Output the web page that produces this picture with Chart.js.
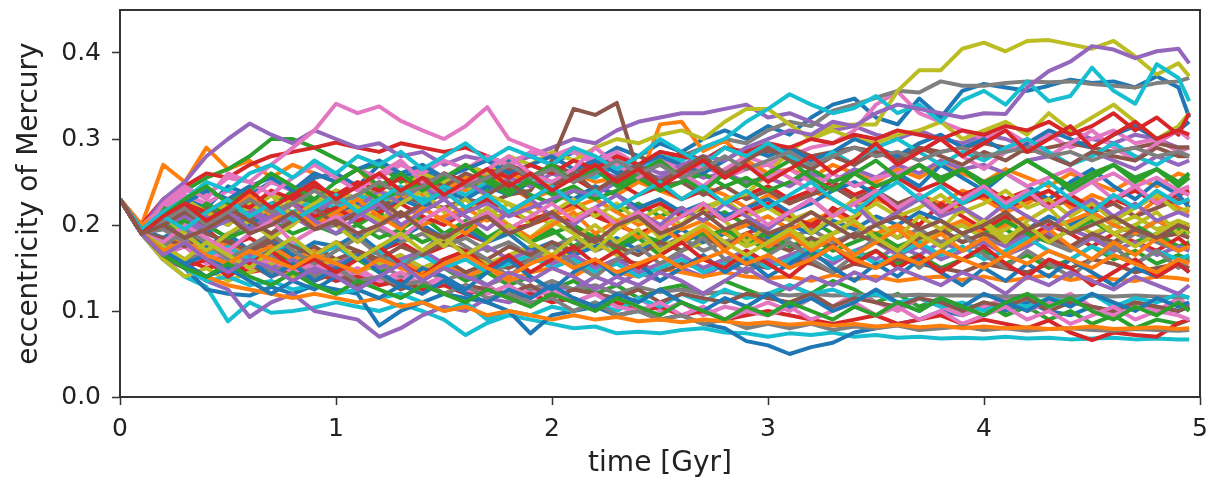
<!DOCTYPE html>
<html lang="en">

<head>
    <meta charset="UTF-8">
    <title>Mercury eccentricity</title>
    <script src="https://cdn.jsdelivr.net/npm/chart.js"></script>
    <style>
        body {
            margin: 0;
            background: #ffffff;
        }

        .chart-box {
            width: 1225px;
            height: 482px;
        }
    </style>
</head>

<body>
    <div class="chart-box">
        <canvas id="grafico" width="1225" height="482"></canvas>
    </div>

    <script>
        // time in Gyr, one sample every 0.1 Gyr
        const times = [0, 0.1, 0.2, 0.3, 0.4, 0.5, 0.6, 0.7, 0.8, 0.9,
            1.0, 1.1, 1.2, 1.3, 1.4, 1.5, 1.6, 1.7, 1.8, 1.9,
            2.0, 2.1, 2.2, 2.3, 2.4, 2.5, 2.6, 2.7, 2.8, 2.9,
            3.0, 3.1, 3.2, 3.3, 3.4, 3.5, 3.6, 3.7, 3.8, 3.9,
            4.0, 4.1, 4.2, 4.3, 4.4, 4.5, 4.6, 4.7, 4.8, 4.9,
            4.95];

        const xTickValues = [0, 1, 2, 3, 4, 5];
        const yTickValues = [0.0, 0.1, 0.2, 0.3, 0.4];

        // eccentricity of each run
        const run00 = [.23, .195, .215, .23, .22, .245, .235, .25, .24, .255,
            .26, .245, .27, .255, .265, .25, .27, .26, .275, .28,
            .27, .285, .275, .29, .28, .295, .285, .30, .31, .30,
            .315, .305, .325, .34, .347, .325, .317, .347, .325, .356,
            .364, .36, .356, .362, .369, .365, .367, .36, .373, .36,
            .325];
        const run01 = [.23, .2, .27, .25, .29, .265, .275, .255, .27, .26,
            .25, .265, .24, .255, .235, .25, .24, .26, .245, .23,
            .24, .225, .245, .235, .25, .24, .23, .245, .235, .22,
            .235, .225, .24, .23, .215, .23, .22, .235, .225, .24,
            .23, .215, .225, .24, .22, .235, .225, .21, .23, .22,
            .215];
        const run02 = [.23, .19, .22, .24, .255, .265, .28, .3, .3, .29,
            .277, .265, .27, .25, .26, .245, .255, .24, .25, .235,
            .225, .24, .23, .215, .225, .21, .22, .205, .215, .2,
            .21, .195, .205, .19, .2, .185, .195, .18, .19, .2,
            .185, .195, .18, .19, .175, .185, .17, .18, .19, .175,
            .18];
        const run03 = [.23, .2, .23, .245, .26, .255, .27, .28, .285, .29,
            .296, .29, .285, .295, .29, .285, .29, .28, .27, .26,
            .25, .255, .24, .25, .235, .245, .23, .24, .225, .235,
            .245, .23, .24, .25, .235, .245, .255, .24, .25, .235,
            .245, .23, .24, .225, .235, .22, .23, .24, .225, .235,
            .24];
        const run04 = [.23, .195, .23, .25, .28, .3, .318, .305, .295, .31,
            .3, .29, .295, .28, .285, .27, .28, .275, .27, .28,
            .29, .3, .295, .31, .32, .325, .33, .33, .335, .34,
            .325, .33, .32, .31, .315, .305, .3, .31, .3, .295,
            .305, .3, .29, .3, .31, .3, .295, .305, .3, .29,
            .29];
        const run05 = [.23, .195, .2, .21, .2, .215, .205, .22, .21, .225,
            .215, .23, .22, .235, .225, .22, .23, .225, .235, .24,
            .275, .335, .328, .342, .26, .245, .25, .235, .245, .23,
            .24, .225, .235, .245, .23, .24, .225, .235, .22, .23,
            .24, .225, .235, .22, .23, .215, .225, .21, .22, .23,
            .225];
        const run06 = [.23, .2, .22, .24, .235, .255, .25, .27, .29, .31,
            .341, .33, .338, .321, .31, .3, .315, .337, .3, .29,
            .28, .285, .27, .28, .265, .275, .26, .27, .255, .265,
            .27, .28, .29, .295, .31, .34, .355, .33, .32, .31,
            .3, .31, .295, .305, .29, .3, .31, .295, .3, .285,
            .29];
        const run07 = [.23, .195, .2, .215, .205, .22, .21, .225, .235, .225,
            .24, .23, .245, .255, .245, .26, .25, .265, .255, .27,
            .26, .275, .265, .28, .27, .285, .28, .29, .3, .295,
            .31, .32, .315, .333, .34, .348, .356, .354, .367, .362,
            .362, .365, .367, .366, .367, .364, .362, .36, .365, .367,
            .371];
        const run08 = [.23, .19, .205, .22, .21, .225, .215, .235, .225, .24,
            .23, .22, .235, .225, .24, .23, .245, .235, .225, .215,
            .2, .21, .22, .205, .215, .2, .21, .22, .23, .236,
            .26, .286, .302, .315, .317, .317, .356, .38, .38, .405,
            .412, .402, .414, .415, .41, .405, .414, .396, .375, .388,
            .373];
        const run09 = [.23, .19, .16, .14, .128, .088, .11, .098, .1, .104,
            .11, .105, .1, .108, .1, .09, .072, .086, .095, .09,
            .085, .08, .082, .074, .076, .074, .078, .08, .075, .074,
            .07, .074, .072, .075, .07, .072, .069, .07, .068, .069,
            .068, .07, .068, .069, .067, .068, .069, .067, .068, .067,
            .067];
        const run10 = [.23, .195, .17, .15, .125, .12, .118, .128, .12, .13,
            .125, .12, .083, .1, .11, .12, .115, .11, .1, .074,
            .095, .1, .105, .095, .1, .09, .095, .085, .08, .065,
            .06, .05, .058, .063, .075, .08, .085, .09, .1, .095,
            .105, .1, .11, .1, .095, .105, .1, .11, .105, .1,
            .105];
        const run11 = [.23, .2, .215, .2, .22, .205, .225, .21, .23, .22,
            .235, .225, .24, .23, .25, .24, .255, .245, .26, .25,
            .245, .26, .25, .255, .25, .317, .32, .286, .298, .275,
            .26, .265, .255, .27, .26, .25, .265, .255, .27, .26,
            .25, .265, .255, .245, .26, .25, .24, .255, .245, .26,
            .255];
        const run12 = [.23, .19, .17, .18, .165, .175, .16, .17, .155, .165,
            .15, .16, .145, .155, .14, .15, .135, .145, .13, .14,
            .125, .135, .12, .13, .115, .125, .13, .12, .135, .125,
            .115, .13, .12, .135, .125, .11, .12, .105, .115, .1,
            .11, .095, .105, .09, .1, .085, .095, .08, .09, .085,
            .09];
        const run13 = [.23, .19, .2, .185, .195, .175, .185, .17, .18, .165,
            .175, .16, .17, .18, .165, .175, .19, .18, .195, .2,
            .21, .205, .215, .2, .19, .2, .185, .195, .18, .19,
            .2, .21, .195, .22, .205, .235, .215, .2, .225, .21,
            .195, .21, .185, .2, .19, .175, .19, .18, .17, .185,
            .175];
        const run14 = [.23, .19, .16, .15, .135, .125, .093, .11, .12, .1,
            .095, .09, .07, .08, .095, .105, .1, .115, .11, .12,
            .13, .125, .14, .13, .145, .135, .15, .14, .155, .145,
            .16, .15, .165, .155, .17, .16, .175, .165, .18, .17,
            .185, .175, .19, .18, .195, .185, .2, .19, .205, .195,
            .2];
        const run15 = [.23, .195, .21, .2, .22, .21, .23, .22, .235, .225,
            .24, .23, .25, .24, .255, .245, .26, .25, .265, .255,
            .27, .26, .275, .265, .28, .27, .285, .275, .29, .28,
            .285, .29, .28, .285, .29, .285, .28, .29, .285, .29,
            .295, .29, .285, .29, .295, .29, .285, .29, .295, .29,
            .29];
        const run16 = [.23, .19, .165, .175, .155, .165, .15, .16, .14, .15,
            .135, .145, .13, .14, .125, .135, .12, .13, .115, .125,
            .12, .11, .12, .105, .115, .1, .11, .095, .105, .1,
            .11, .1, .115, .105, .12, .11, .1, .115, .105, .095,
            .105, .115, .1, .11, .12, .105, .095, .11, .1, .115,
            .105];
        const run17 = [.23, .19, .17, .175, .16, .17, .155, .165, .15, .16,
            .15, .145, .155, .14, .15, .135, .145, .13, .14, .125,
            .135, .125, .13, .12, .128, .122, .125, .12, .122, .118,
            .12, .118, .12, .118, .119, .118, .118, .119, .118, .118,
            .118, .117, .118, .118, .117, .118, .117, .118, .117, .116,
            .116];
        const run18 = [.23, .19, .21, .195, .215, .2, .225, .21, .23, .22,
            .24, .23, .25, .24, .26, .25, .27, .26, .28, .27,
            .285, .275, .29, .3, .295, .305, .31, .3, .32, .335,
            .335, .317, .3, .31, .3, .295, .305, .31, .32, .3,
            .31, .32, .305, .33, .31, .325, .34, .32, .3, .315,
            .33];
        const run19 = [.23, .19, .2, .215, .205, .22, .21, .225, .215, .23,
            .22, .235, .225, .24, .23, .245, .235, .25, .24, .255,
            .25, .26, .255, .27, .265, .28, .275, .29, .3, .32,
            .335, .352, .34, .33, .336, .35, .33, .34, .32, .345,
            .356, .34, .367, .344, .35, .383, .356, .341, .387, .371,
            .344];
        const run20 = [.23, .195, .185, .2, .19, .21, .2, .215, .205, .22,
            .21, .225, .215, .23, .22, .24, .23, .245, .235, .25,
            .24, .23, .245, .235, .22, .23, .215, .225, .21, .22,
            .23, .215, .225, .24, .25, .235, .26, .245, .27, .255,
            .24, .26, .245, .23, .25, .265, .245, .23, .25, .235,
            .22];
        const run21 = [.23, .19, .175, .185, .17, .18, .165, .175, .16, .17,
            .155, .165, .15, .16, .145, .155, .14, .15, .135, .145,
            .15, .14, .155, .145, .14, .15, .145, .14, .145, .14,
            .138, .14, .135, .142, .137, .14, .135, .138, .14, .136,
            .14, .135, .138, .142, .136, .14, .137, .135, .14, .138,
            .136];
        const run22 = [.23, .19, .215, .2, .225, .21, .23, .215, .225, .205,
            .22, .2, .215, .195, .21, .19, .205, .185, .2, .18,
            .195, .175, .19, .17, .185, .165, .18, .19, .175, .185,
            .17, .18, .165, .175, .16, .17, .155, .165, .15, .16,
            .17, .155, .165, .15, .16, .175, .16, .17, .155, .165,
            .16];
        const run23 = [.23, .19, .17, .16, .15, .155, .145, .15, .14, .145,
            .135, .14, .13, .135, .125, .13, .12, .125, .115, .12,
            .11, .115, .105, .11, .1, .105, .095, .1, .09, .095,
            .1, .095, .09, .085, .09, .095, .085, .09, .095, .085,
            .09, .085, .08, .089, .075, .066, .075, .072, .07, .086,
            .09];
        const run24 = [.23, .19, .205, .19, .21, .2, .22, .205, .225, .215,
            .23, .22, .24, .225, .245, .23, .25, .235, .255, .245,
            .26, .25, .265, .255, .27, .26, .265, .255, .26, .25,
            .255, .245, .26, .25, .265, .255, .27, .26, .275, .265,
            .27, .26, .275, .28, .27, .285, .275, .265, .28, .27,
            .275];
        const run25 = [.23, .19, .18, .19, .175, .185, .17, .18, .165, .175,
            .16, .17, .155, .165, .15, .16, .145, .155, .15, .16,
            .155, .165, .15, .16, .155, .145, .155, .15, .16, .155,
            .15, .16, .155, .145, .155, .15, .16, .155, .15, .145,
            .155, .15, .145, .155, .15, .16, .155, .145, .15, .155,
            .15];
        const run26 = [.23, .19, .22, .235, .225, .24, .23, .25, .24, .26,
            .25, .265, .255, .27, .26, .275, .265, .28, .27, .285,
            .28, .29, .275, .285, .27, .28, .265, .275, .26, .27,
            .255, .265, .25, .26, .245, .255, .26, .27, .255, .265,
            .25, .26, .245, .255, .265, .25, .26, .245, .255, .24,
            .245];
        const run27 = [.23, .19, .195, .18, .2, .185, .205, .19, .21, .195,
            .2, .185, .195, .18, .19, .175, .185, .17, .18, .165,
            .175, .185, .17, .18, .19, .175, .185, .17, .18, .19,
            .175, .185, .195, .18, .19, .2, .185, .195, .18, .19,
            .175, .185, .195, .18, .17, .185, .175, .19, .18, .17,
            .175];
        const run28 = [.23, .19, .16, .14, .15, .135, .145, .155, .14, .15,
            .16, .145, .155, .165, .15, .16, .17, .155, .165, .175,
            .16, .17, .18, .165, .175, .185, .17, .18, .19, .175,
            .185, .195, .18, .19, .2, .185, .195, .18, .19, .2,
            .185, .195, .21, .195, .205, .19, .2, .21, .195, .205,
            .2];
        const run29 = [.23, .19, .17, .15, .135, .14, .13, .135, .125, .13,
            .12, .125, .115, .12, .11, .1, .11, .09, .1, .095,
            .105, .1, .11, .1, .115, .105, .12, .11, .125, .115,
            .12, .13, .12, .125, .115, .12, .11, .115, .105, .11,
            .1, .11, .105, .115, .11, .12, .105, .115, .11, .12,
            .115];
        const run30 = [.23, .19, .18, .195, .175, .19, .17, .185, .165, .18,
            .175, .19, .17, .185, .2, .185, .195, .18, .19, .17,
            .18, .165, .175, .185, .17, .18, .195, .18, .19, .2,
            .185, .2, .19, .205, .195, .21, .2, .215, .205, .19,
            .2, .185, .195, .21, .2, .215, .2, .19, .205, .195,
            .2];
        const run31 = [.23, .19, .205, .215, .2, .21, .195, .205, .215, .2,
            .21, .22, .205, .215, .2, .21, .22, .205, .215, .225,
            .21, .22, .23, .215, .2, .21, .195, .205, .19, .2,
            .21, .195, .205, .215, .2, .19, .2, .185, .195, .205,
            .19, .2, .21, .195, .205, .215, .2, .19, .205, .195,
            .2];
        const run32 = [.23, .19, .22, .205, .225, .21, .23, .22, .24, .225,
            .235, .245, .23, .24, .25, .235, .245, .255, .24, .25,
            .235, .245, .23, .24, .255, .24, .25, .26, .245, .255,
            .24, .25, .265, .25, .26, .245, .255, .27, .255, .265,
            .25, .26, .275, .26, .245, .26, .27, .255, .265, .25,
            .26];
        const run33 = [.23, .19, .2, .22, .205, .215, .23, .215, .225, .21,
            .22, .205, .215, .225, .21, .2, .215, .23, .215, .205,
            .215, .225, .21, .2, .215, .225, .21, .22, .205, .215,
            .225, .21, .2, .215, .225, .235, .22, .23, .215, .225,
            .235, .22, .23, .24, .225, .215, .23, .22, .235, .225,
            .23];
        const run34 = [.23, .19, .17, .16, .17, .155, .165, .15, .16, .145,
            .155, .165, .15, .16, .17, .155, .165, .175, .16, .17,
            .155, .165, .15, .16, .145, .155, .165, .15, .16, .17,
            .155, .165, .175, .16, .17, .18, .165, .175, .16, .17,
            .18, .165, .175, .19, .175, .185, .17, .18, .165, .175,
            .17];
        const run35 = [.23, .19, .17, .16, .165, .15, .155, .14, .15, .135,
            .145, .13, .14, .125, .135, .12, .13, .125, .12, .13,
            .115, .125, .12, .115, .125, .11, .12, .115, .11, .12,
            .115, .11, .12, .105, .115, .11, .105, .115, .11, .1,
            .11, .105, .115, .1, .11, .105, .1, .11, .105, .1,
            .105];
        const run36 = [.23, .19, .17, .175, .16, .17, .15, .16, .145, .155,
            .14, .15, .135, .145, .13, .14, .125, .12, .13, .115,
            .125, .11, .12, .105, .1, .11, .095, .105, .09, .1,
            .095, .105, .09, .1, .11, .095, .105, .09, .1, .085,
            .095, .105, .09, .1, .085, .095, .105, .09, .1, .095,
            .09];
        const run37 = [.23, .19, .175, .16, .165, .15, .16, .145, .155, .14,
            .15, .135, .14, .13, .135, .12, .13, .115, .12, .11,
            .115, .1, .11, .095, .1, .09, .095, .085, .09, .08,
            .085, .08, .085, .078, .082, .08, .083, .078, .08, .082,
            .078, .08, .077, .079, .08, .078, .077, .079, .078, .077,
            .078];
        const run38 = [.23, .19, .215, .23, .215, .2, .22, .235, .21, .225,
            .24, .22, .205, .225, .24, .215, .23, .21, .225, .2,
            .215, .23, .21, .225, .205, .22, .2, .215, .23, .21,
            .22, .205, .215, .2, .21, .225, .21, .22, .235, .215,
            .225, .24, .22, .23, .21, .225, .205, .22, .235, .215,
            .22];
        const run39 = [.23, .19, .17, .18, .165, .175, .16, .17, .18, .165,
            .175, .16, .17, .155, .165, .15, .16, .145, .155, .165,
            .15, .16, .145, .155, .14, .15, .16, .145, .155, .165,
            .15, .16, .175, .16, .17, .155, .165, .18, .165, .175,
            .16, .17, .185, .17, .16, .175, .165, .155, .17, .16,
            .165];
        const run40 = [.23, .19, .21, .225, .24, .23, .245, .255, .24, .26,
            .25, .265, .275, .26, .27, .255, .265, .275, .26, .27,
            .28, .265, .275, .26, .27, .28, .27, .26, .275, .29,
            .28, .29, .275, .285, .3, .29, .28, .295, .305, .29,
            .3, .285, .295, .31, .3, .29, .305, .315, .3, .31,
            .32];
        const run41 = [.23, .19, .17, .155, .14, .13, .125, .12, .115, .12,
            .115, .11, .115, .105, .11, .1, .105, .095, .1, .095,
            .09, .095, .09, .093, .088, .09, .087, .09, .088, .085,
            .087, .084, .086, .083, .085, .082, .084, .081, .083, .08,
            .082, .08, .081, .079, .08, .082, .079, .08, .081, .079,
            .08];
        const run42 = [.23, .19, .205, .19, .2, .185, .195, .205, .19, .2,
            .19, .2, .185, .195, .18, .19, .2, .185, .195, .18,
            .19, .2, .185, .175, .19, .18, .17, .185, .195, .18,
            .19, .175, .185, .17, .18, .19, .175, .185, .195, .18,
            .19, .205, .19, .18, .195, .205, .19, .2, .185, .195,
            .19];
        const run43 = [.23, .19, .21, .225, .215, .23, .22, .24, .23, .245,
            .235, .25, .24, .255, .245, .26, .25, .265, .255, .27,
            .26, .275, .265, .28, .27, .285, .28, .275, .29, .285,
            .295, .29, .3, .295, .305, .3, .31, .305, .3, .31,
            .305, .315, .31, .32, .305, .315, .33, .31, .325, .305,
            .33];
        const run44 = [.23, .19, .2, .21, .195, .205, .215, .2, .21, .195,
            .205, .215, .2, .21, .22, .205, .215, .225, .21, .22,
            .23, .24, .235, .25, .26, .255, .27, .28, .275, .29,
            .3, .31, .305, .32, .315, .33, .34, .335, .33, .325,
            .33, .329, .36, .379, .39, .408, .404, .394, .402, .405,
            .388];
        const run45 = [.23, .19, .185, .175, .19, .18, .17, .185, .175, .165,
            .18, .17, .16, .175, .165, .18, .17, .16, .175, .165,
            .18, .17, .185, .175, .165, .18, .17, .185, .175, .19,
            .18, .17, .185, .175, .19, .18, .17, .185, .195, .18,
            .19, .18, .195, .185, .175, .19, .18, .195, .185, .19,
            .185];
        const run46 = [.23, .19, .225, .245, .23, .26, .25, .235, .255, .27,
            .255, .24, .26, .275, .25, .235, .245, .265, .28, .26,
            .25, .265, .29, .27, .255, .275, .26, .245, .265, .28,
            .27, .255, .24, .26, .275, .29, .27, .285, .3, .28,
            .265, .285, .3, .28, .295, .31, .29, .275, .295, .31,
            .3];
        const run47 = [.23, .19, .175, .195, .18, .16, .175, .19, .17, .155,
            .17, .185, .165, .15, .17, .19, .175, .16, .14, .16,
            .175, .155, .14, .16, .175, .155, .17, .185, .16, .145,
            .165, .18, .16, .145, .165, .185, .17, .15, .17, .19,
            .165, .15, .17, .155, .14, .16, .175, .155, .17, .15,
            .16];
        const run48 = [.23, .19, .21, .19, .17, .19, .205, .185, .2, .22,
            .2, .18, .2, .215, .195, .175, .2, .22, .2, .185,
            .205, .19, .17, .195, .21, .185, .2, .225, .205, .18,
            .2, .215, .19, .21, .23, .205, .185, .21, .195, .22,
            .2, .18, .205, .22, .195, .21, .19, .2, .215, .19,
            .2];
        const run49 = [.23, .195, .215, .23, .25, .24, .26, .27, .255, .275,
            .26, .28, .27, .285, .265, .28, .295, .275, .29, .28,
            .27, .29, .28, .265, .28, .3, .285, .27, .29, .28,
            .295, .28, .265, .285, .27, .29, .3, .285, .27, .285,
            .275, .29, .3, .285, .27, .28, .295, .28, .27, .285,
            .28];
        const run50 = [.23, .19, .17, .155, .165, .145, .16, .14, .155, .135,
            .15, .165, .145, .13, .15, .14, .125, .145, .16, .14,
            .125, .145, .16, .14, .155, .135, .15, .165, .145, .16,
            .14, .155, .17, .15, .135, .155, .14, .16, .145, .13,
            .15, .135, .155, .14, .16, .145, .13, .15, .14, .155,
            .145];
        const run51 = [.23, .19, .2, .22, .2, .215, .235, .21, .225, .2,
            .215, .23, .21, .195, .22, .205, .19, .21, .2, .185,
            .2, .215, .19, .205, .185, .2, .18, .195, .17, .19,
            .175, .19, .17, .185, .165, .18, .195, .175, .19, .17,
            .185, .165, .18, .195, .175, .16, .18, .165, .185, .17,
            .175];
        const run52 = [.23, .19, .21, .23, .245, .225, .24, .26, .245, .23,
            .25, .265, .245, .26, .24, .255, .27, .25, .235, .255,
            .27, .25, .265, .245, .26, .275, .255, .24, .26, .245,
            .26, .275, .255, .24, .26, .275, .255, .27, .25, .265,
            .245, .26, .275, .26, .24, .255, .27, .25, .265, .245,
            .255];
        const run53 = [.23, .19, .165, .15, .16, .14, .155, .17, .15, .16,
            .145, .16, .175, .155, .14, .16, .17, .15, .165, .145,
            .16, .175, .155, .17, .15, .165, .18, .16, .15, .17,
            .155, .14, .16, .175, .155, .17, .15, .165, .145, .16,
            .175, .155, .14, .16, .15, .13, .145, .16, .14, .155,
            .145];
        const run54 = [.23, .19, .2, .185, .205, .215, .195, .21, .225, .205,
            .19, .21, .225, .2, .215, .23, .21, .195, .215, .23,
            .21, .2, .22, .235, .215, .2, .22, .205, .225, .21,
            .195, .215, .23, .21, .225, .2, .215, .23, .21, .22,
            .205, .225, .21, .195, .215, .23, .21, .225, .205, .215,
            .21];
        const run55 = [.23, .19, .2, .215, .2, .22, .205, .19, .205, .22,
            .2, .215, .23, .21, .225, .24, .22, .235, .25, .23,
            .245, .26, .24, .255, .27, .25, .265, .28, .26, .275,
            .29, .275, .265, .28, .27, .285, .275, .29, .28, .27,
            .285, .275, .29, .28, .27, .285, .28, .275, .29, .28,
            .28];
        const run56 = [.23, .19, .18, .2, .185, .17, .19, .205, .18, .195,
            .21, .19, .2, .185, .205, .22, .2, .215, .195, .21,
            .225, .205, .22, .2, .215, .195, .21, .225, .205, .22,
            .2, .215, .23, .21, .225, .24, .22, .235, .215, .23,
            .245, .225, .24, .22, .235, .25, .23, .245, .225, .24,
            .235];
        const run57 = [.23, .19, .205, .22, .2, .215, .23, .215, .225, .24,
            .225, .235, .25, .235, .245, .26, .245, .255, .27, .255,
            .265, .25, .26, .275, .26, .27, .255, .265, .28, .265,
            .275, .285, .27, .28, .29, .28, .285, .275, .285, .29,
            .28, .285, .29, .28, .285, .275, .285, .29, .28, .285,
            .28];
        const run58 = [.23, .19, .175, .16, .18, .165, .15, .17, .185, .165,
            .18, .16, .175, .19, .17, .185, .165, .18, .2, .18,
            .165, .185, .2, .18, .195, .17, .185, .2, .18, .165,
            .18, .195, .175, .19, .205, .185, .17, .19, .175, .19,
            .205, .185, .2, .18, .195, .21, .19, .175, .19, .205,
            .19];
        const run59 = [.23, .19, .21, .195, .215, .23, .21, .225, .205, .22,
            .235, .215, .23, .245, .225, .24, .22, .235, .215, .23,
            .245, .225, .24, .22, .235, .25, .23, .245, .225, .24,
            .22, .235, .25, .23, .215, .235, .25, .23, .245, .225,
            .24, .22, .235, .25, .23, .215, .235, .22, .24, .225,
            .23];
        const run60 = [.23, .19, .17, .155, .14, .15, .135, .12, .135, .125,
            .14, .125, .115, .13, .12, .135, .12, .11, .125, .115,
            .13, .115, .105, .12, .11, .125, .11, .1, .115, .105,
            .12, .105, .115, .1, .11, .125, .11, .1, .115, .105,
            .12, .11, .1, .115, .105, .12, .11, .1, .115, .105,
            .11];
        const run61 = [.23, .19, .17, .18, .165, .155, .17, .16, .15, .165,
            .155, .145, .16, .15, .14, .155, .165, .15, .14, .155,
            .165, .15, .16, .145, .155, .165, .15, .16, .17, .155,
            .165, .15, .16, .175, .16, .15, .165, .155, .17, .16,
            .15, .165, .155, .17, .16, .15, .165, .155, .145, .16,
            .155];
        const run62 = [.23, .19, .165, .15, .14, .155, .14, .13, .145, .13,
            .12, .135, .125, .115, .13, .12, .11, .125, .115, .105,
            .12, .11, .1, .115, .105, .095, .11, .1, .09, .105,
            .095, .11, .1, .09, .105, .095, .11, .1, .115, .105,
            .095, .11, .12, .105, .115, .1, .09, .105, .095, .11,
            .1];
        const run63 = [.23, .19, .21, .225, .205, .22, .24, .22, .235, .25,
            .23, .245, .26, .24, .255, .235, .25, .265, .245, .26,
            .24, .255, .27, .25, .265, .245, .26, .275, .255, .27,
            .25, .265, .28, .26, .275, .295, .27, .285, .3, .28,
            .295, .31, .285, .3, .315, .29, .305, .32, .3, .31,
            .305];
        const run64 = [.23, .19, .165, .18, .16, .145, .16, .15, .135, .15,
            .14, .125, .14, .155, .135, .15, .14, .13, .145, .135,
            .15, .14, .125, .14, .13, .145, .135, .12, .135, .15,
            .135, .125, .14, .13, .145, .135, .15, .14, .13, .145,
            .135, .12, .14, .13, .145, .135, .125, .14, .13, .12,
            .13];
        const run65 = [.23, .19, .2, .185, .195, .21, .19, .2, .215, .195,
            .205, .19, .2, .215, .195, .185, .2, .21, .19, .2,
            .215, .195, .18, .2, .21, .19, .2, .215, .195, .205,
            .19, .2, .215, .2, .185, .2, .21, .195, .205, .19,
            .2, .215, .195, .205, .19, .2, .21, .195, .185, .2,
            .195];

        const runs = [run00, run01, run02, run03, run04, run05, run06, run07, run08, run09,
            run10, run11, run12, run13, run14, run15, run16, run17, run18, run19,
            run20, run21, run22, run23, run24, run25, run26, run27, run28, run29,
            run30, run31, run32, run33, run34, run35, run36, run37, run38, run39,
            run40, run41, run42, run43, run44, run45, run46, run47, run48, run49,
            run50, run51, run52, run53, run54, run55, run56, run57, run58, run59,
            run60, run61, run62, run63, run64, run65];

        // matplotlib default colour cycle
        const tab10 = ['#1f77b4', '#ff7f0e', '#2ca02c', '#d62728', '#9467bd',
            '#8c564b', '#e377c2', '#7f7f7f', '#bcbd22', '#17becf'];

        const datasets = runs.map((run, idx) => ({
            data: run.map((e, i) => ({ x: times[i], y: e })),
            borderColor: tab10[idx % 10],
            borderWidth: 4,
            pointRadius: 0,
            fill: false,
            tension: 0,
            borderJoinStyle: 'round'
        }));
        // chart.js paints the first dataset on top, matplotlib the last one
        datasets.reverse();

        // box around the axes, drawn over the lines like matplotlib spines
        const frame = {
            id: 'frame',
            afterDraw(chart) {
                const { ctx, chartArea: a } = chart;
                ctx.save();
                ctx.strokeStyle = '#333333';
                ctx.lineWidth = 2;
                ctx.strokeRect(a.left, a.top, a.right - a.left, a.bottom - a.top);
                ctx.restore();
            }
        };

        const tickFont = { family: 'DejaVu Sans', size: 25 };
        const titleFont = { family: 'DejaVu Sans', size: 28 };

        const ctx = document.getElementById('grafico').getContext('2d');
        new Chart(ctx, {
            type: 'line',
            data: { datasets: datasets },
            options: {
                responsive: false,
                animation: false,
                events: [],
                layout: { padding: { top: 10, right: 25, bottom: 0, left: 0 } },
                plugins: {
                    legend: { display: false },
                    tooltip: { enabled: false }
                },
                scales: {
                    x: {
                        type: 'linear',
                        min: 0,
                        max: 5,
                        afterBuildTicks: s => { s.ticks = xTickValues.map(v => ({ value: v })); },
                        afterFit: s => { s.height = 85; s.paddingLeft = 0; s.paddingRight = 0; },
                        ticks: {
                            font: tickFont,
                            color: '#222222',
                            padding: 9,
                            maxRotation: 0,
                            callback: v => String(v)
                        },
                        grid: { drawOnChartArea: false, tickLength: 8, tickWidth: 1.5, color: '#333333' },
                        border: { display: false },
                        title: {
                            display: true,
                            text: 'time [Gyr]',
                            font: titleFont,
                            color: '#222222',
                            padding: { top: 0, bottom: 1 }
                        }
                    },
                    y: {
                        min: 0,
                        max: 0.45,
                        afterBuildTicks: s => { s.ticks = yTickValues.map(v => ({ value: v })); },
                        afterFit: s => { s.width = 120; s.paddingTop = 0; s.paddingBottom = 0; },
                        ticks: {
                            font: tickFont,
                            color: '#222222',
                            padding: 11,
                            callback: v => v.toFixed(1)
                        },
                        grid: { drawOnChartArea: false, tickLength: 8, tickWidth: 1.5, color: '#333333' },
                        border: { display: false },
                        title: {
                            display: true,
                            text: 'eccentricity of Mercury',
                            font: titleFont,
                            color: '#222222',
                            padding: { top: 13, bottom: 0 }
                        }
                    }
                }
            },
            plugins: [frame]
        });
    </script>
</body>

</html>
